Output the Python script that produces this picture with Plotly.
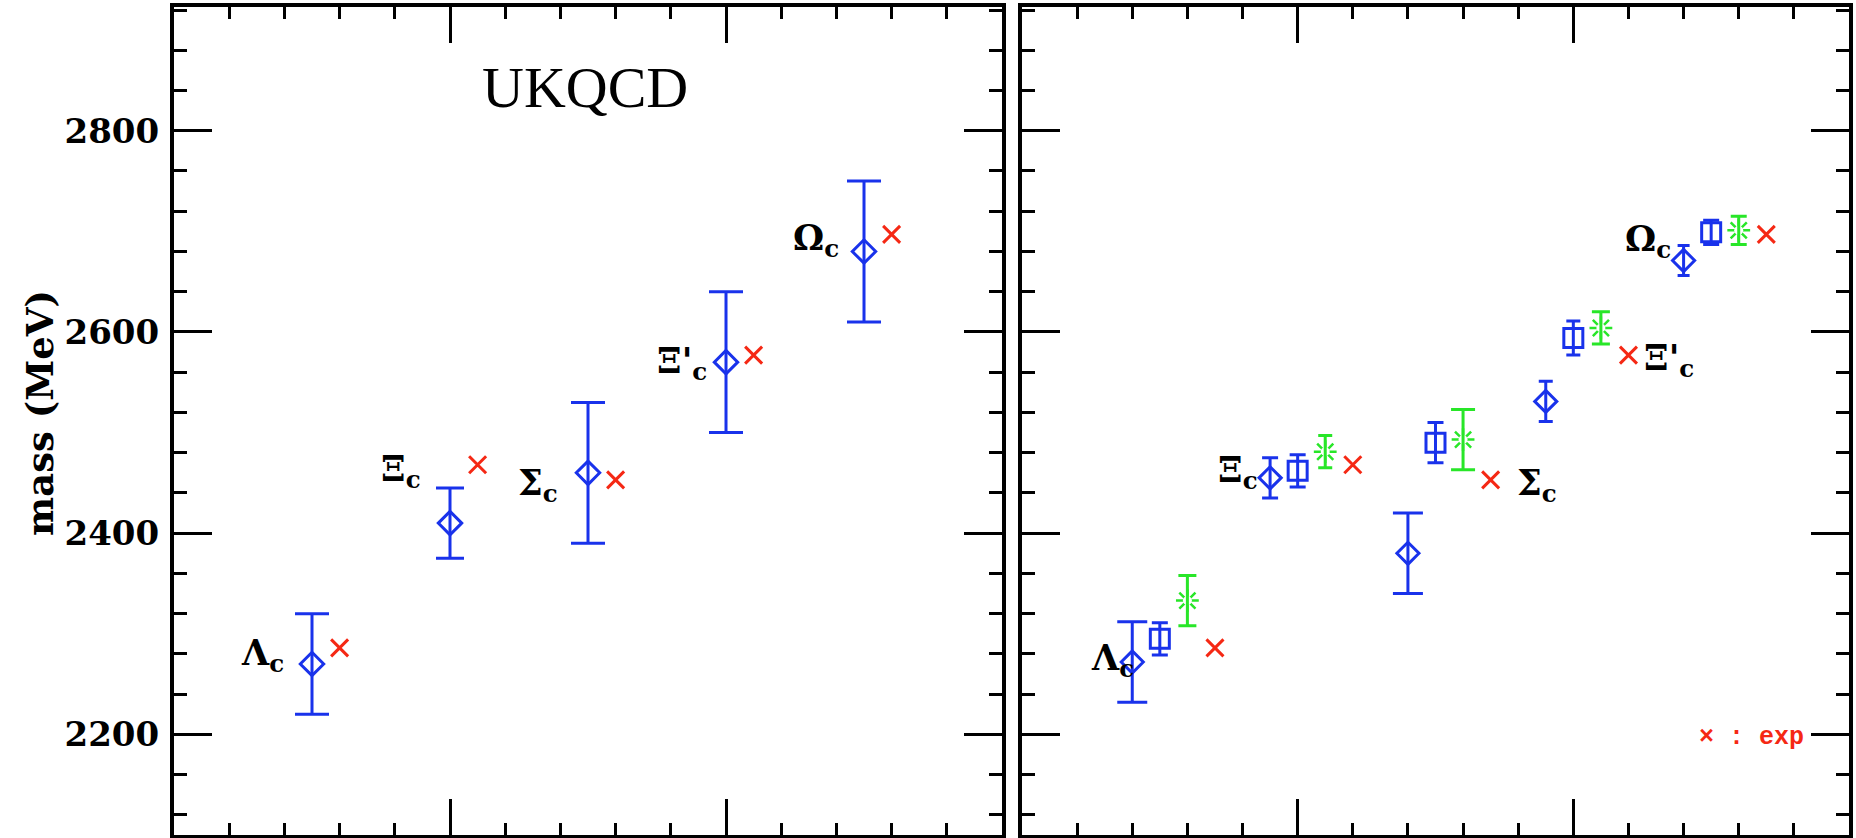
import plotly.graph_objects as go

# Charmed baryons, in plotting order
baryons = ["Λ<sub>c</sub>", "Ξ<sub>c</sub>", "Σ<sub>c</sub>", "Ξ'<sub>c</sub>", "Ω<sub>c</sub>"]

# Left panel: UKQCD lattice masses (MeV) and experiment
ukqcd_mass = [2270, 2410, 2460, 2570, 2680]
ukqcd_err = [50, 35, 70, 70, 70]
exp_mass = [2286, 2468, 2453, 2577, 2697]

# Right panel: three lattice determinations (MeV)
diamond_mass = [2272, 2455, 2380, 2531, 2671]
diamond_err = [40, 20, 40, 20, 15]
square_mass = [2295, 2462, 2490, 2594, 2699]
square_err = [16, 16, 20, 17, 12]
star_mass = [2333, 2481, 2493, 2604, 2701]
star_err = [25, 16, 30, 16, 14]

# Error-bar cap half-widths (px)
cap_ukqcd = [17, 14, 17, 17, 17]
cap_diamond = [15, 8, 15, 7, 6]
cap_square = [8, 8, 8, 7, 8]
cap_star = [9, 7, 12, 9, 8]

BLUE = "rgb(25,50,235)"
RED = "rgb(245,40,20)"
GREEN = "rgb(40,230,40)"

fig = go.Figure()


def point(xv, yv, err, cap, color, symbol, size, xa, ya, lw=3, fill=None):
    marker = dict(symbol=symbol, size=size, color=fill or color,
                  line=dict(color=color, width=lw))
    fig.add_trace(go.Scatter(
        x=[xv], y=[yv], mode="markers", marker=marker, xaxis=xa, yaxis=ya,
        showlegend=False, hoverinfo="skip",
        error_y=dict(type="data", array=[err], color=color, thickness=3, width=cap)
        if err is not None else None,
    ))


# Left panel
for i in range(len(baryons)):
    x0 = 2.5 * (i + 1)
    point(x0, ukqcd_mass[i], ukqcd_err[i], cap_ukqcd[i], BLUE, "diamond-open", 18, "x", "y")
    point(x0 + 0.5, exp_mass[i], None, 0, RED, "x-thin-open", 17, "x", "y")

# Right panel
for i in range(len(baryons)):
    x0 = 2 + 2.5 * i
    point(x0, diamond_mass[i], diamond_err[i], cap_diamond[i], BLUE, "diamond-open", 17, "x2", "y2")
    point(x0 + 0.5, square_mass[i], square_err[i], cap_square[i], BLUE, "square-open", 19, "x2", "y2")
    # burst marker: spokes, hollow centre, then the error bar on top
    point(x0 + 1.0, star_mass[i], None, 0, GREEN, "asterisk-open", 19, "x2", "y2", lw=2.5)
    point(x0 + 1.0, star_mass[i], None, 0, "white", "circle", 9, "x2", "y2", lw=0)
    fig.add_trace(go.Scatter(
        x=[x0 + 1.0], y=[star_mass[i]], mode="markers", xaxis="x2", yaxis="y2",
        marker=dict(size=1, opacity=0), showlegend=False, hoverinfo="skip",
        error_y=dict(type="data", array=[star_err[i]], color=GREEN, thickness=3, width=cap_star[i]),
    ))
    point(x0 + 1.5, exp_mass[i], None, 0, RED, "x-thin-open", 17, "x2", "y2")

frame = dict(showgrid=False, zeroline=False, showline=True, linecolor="black", linewidth=4,
             mirror="allticks", ticks="inside", tickcolor="black", tickwidth=3)
xcommon = dict(frame, range=[0, 15], tick0=0, dtick=5, ticklen=36, showticklabels=False,
               minor=dict(tick0=0, dtick=1, ticklen=12, tickwidth=3, ticks="inside", tickcolor="black"))
ycommon = dict(frame, range=[2100, 2923], tick0=2200, dtick=200, ticklen=38,
               minor=dict(tick0=2200, dtick=40, ticklen=13, tickwidth=3, ticks="inside", tickcolor="black"))

W, H = 1856, 838
ml, mr, mt, mb = 174, 5, 7, 3
pw = W - ml - mr
left_dom = [0, (1003 - ml) / pw]
right_dom = [(1023 - ml) / pw, 1]

label_font = dict(family="DejaVu Serif", size=35, color="black", weight="bold")

fig.update_layout(
    width=W, height=H,
    margin=dict(l=ml, r=mr, t=mt, b=mb),
    paper_bgcolor="white", plot_bgcolor="white",
    xaxis=dict(xcommon, domain=left_dom, anchor="y"),
    yaxis=dict(ycommon, anchor="x", showticklabels=True, ticklabelstandoff=4,
               tickfont=dict(family="DejaVu Serif", size=34, color="black", weight="bold")),
    xaxis2=dict(xcommon, domain=right_dom, anchor="y2"),
    yaxis2=dict(ycommon, anchor="x2", showticklabels=False),
)

annotations = []
left_pos = [(1.61, 2279), (4.12, 2462), (6.60, 2448), (9.21, 2569), (11.63, 2691)]
right_pos = [(1.65, 2274), (3.91, 2461), (9.35, 2448), (11.73, 2572), (11.36, 2690)]
for name, (lx, ly), (rx, ry) in zip(baryons, left_pos, right_pos):
    annotations.append(dict(x=lx, y=ly, xref="x", yref="y", text=name, showarrow=False,
                            font=label_font, xanchor="center", yanchor="middle"))
    annotations.append(dict(x=rx, y=ry, xref="x2", yref="y2", text=name, showarrow=False,
                            font=label_font, xanchor="center", yanchor="middle"))

annotations.append(dict(x=7.44, y=2843, xref="x", yref="y", text="UKQCD", showarrow=False,
                        font=dict(family="Liberation Serif", size=58, color="black"),
                        xanchor="center", yanchor="middle"))
annotations.append(dict(x=14.22, y=2197, xref="x2", yref="y2", text="× : exp", showarrow=False,
                        font=dict(family="Liberation Mono", size=25, color=RED, weight="bold"),
                        xanchor="right", yanchor="middle"))
annotations.append(dict(x=(40 - ml) / pw, y=0.51, xref="paper", yref="paper", text="mass (MeV)",
                        textangle=-90, showarrow=False,
                        font=dict(family="DejaVu Serif", size=37, color="black", weight="bold"),
                        xanchor="center", yanchor="middle"))
fig.update_layout(annotations=annotations)

fig.write_html("out.html")
